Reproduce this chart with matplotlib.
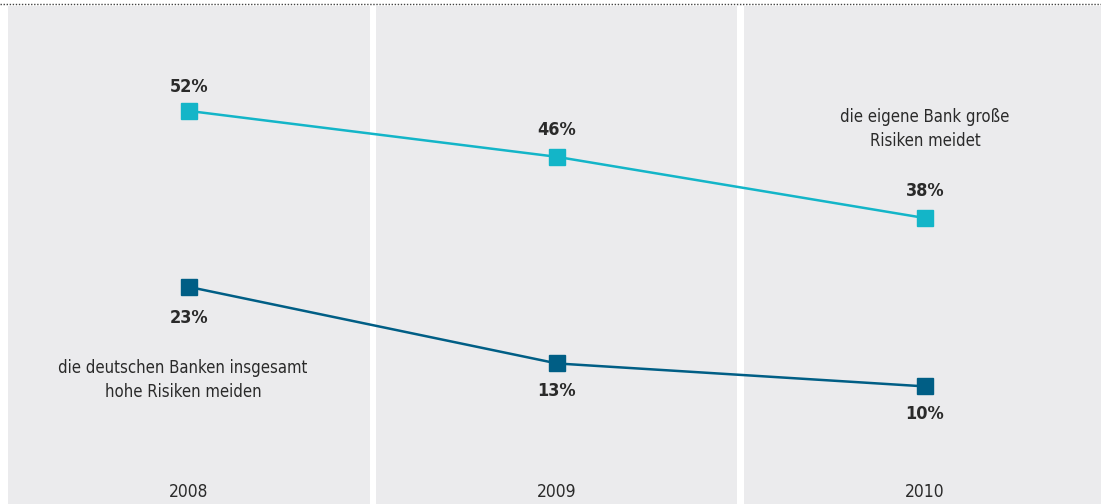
import matplotlib
matplotlib.use("Agg")
import matplotlib.pyplot as plt
import matplotlib.patches as mpatches

# data
years = ["2008", "2009", "2010"]
own_bank = [52, 46, 38]          # die eigene Bank große Risiken meidet
all_banks = [23, 13, 10]         # die deutschen Banken insgesamt hohe Risiken meiden
label_own = "die eigene Bank große\nRisiken meidet"
label_all = "die deutschen Banken insgesamt\nhohe Risiken meiden"

CYAN = "#13b5c8"
DARK = "#005e85"
PANEL = "#ebebed"
TEXT = "#2a2a2a"

plt.rcParams["font.family"] = ["DejaVu Sans"]
plt.rcParams["font.stretch"] = "condensed"

fig = plt.figure(figsize=(11.01, 5.04), dpi=100)
fig.patch.set_facecolor("white")

x = list(range(len(years)))
XLIM = (-0.5136, 2.4783)

# background panels + year labels
bg = fig.add_axes([0, 0, 1, 1])
bg.set_xlim(*XLIM)
bg.set_ylim(504, 0)   # pixel-like units from top
bg.axis("off")
gap = 0.0095
for i in x:
    left = i - 0.5 + (gap if i > 0 else 0.0085)
    right = i + 0.5 - gap if i < len(x) - 1 else XLIM[1] + 0.01
    bg.add_patch(mpatches.Rectangle((left, 6), right - left, 504, facecolor=PANEL,
                                    edgecolor="none", zorder=0))
    bg.text(i, 492, years[i], ha="center", va="center", fontsize=12.5, color=TEXT)
bg.plot([XLIM[0], XLIM[1]], [4, 4], color="#444444", lw=1.0, ls=(0, (1, 1.2)), zorder=1)

# upper series (own axes, same scale, broken layout)
ax1 = fig.add_axes([0, 0, 1, 1], facecolor="none")
ax1.set_xlim(*XLIM)
ax1.set_ylim(0.63, 66.5)
ax1.axis("off")
ax1.plot(x, own_bank, color=CYAN, lw=1.8, marker="s", markersize=11.5, zorder=3)
for xi, v in zip(x, own_bank):
    ax1.annotate(f"{v}%", (xi, v), xytext=(0, 17 if xi == 0 else 19.5), textcoords="offset points",
                 ha="center", va="center", fontsize=13, fontweight="bold", color=TEXT)
ax1.text(2, 49.6, label_own, ha="center", va="center", fontsize=12, color=TEXT, linespacing=1.45)

# lower series
ax2 = fig.add_axes([0, 0, 1, 1], facecolor="none")
ax2.set_xlim(*XLIM)
ax2.set_ylim(-5.37, 60.5)
ax2.axis("off")
ax2.plot(x, all_banks, color=DARK, lw=1.8, marker="s", markersize=11.5, zorder=3)
for xi, v in zip(x, all_banks):
    ax2.annotate(f"{v}%", (xi, v), xytext=(0, -22.5 if xi == 0 else -20), textcoords="offset points",
                 ha="center", va="center", fontsize=13, fontweight="bold", color=TEXT)
ax2.text(-0.016, 10.8, label_all, ha="center", va="center", fontsize=12, color=TEXT, linespacing=1.45)

fig.savefig("out.png", dpi=100)
